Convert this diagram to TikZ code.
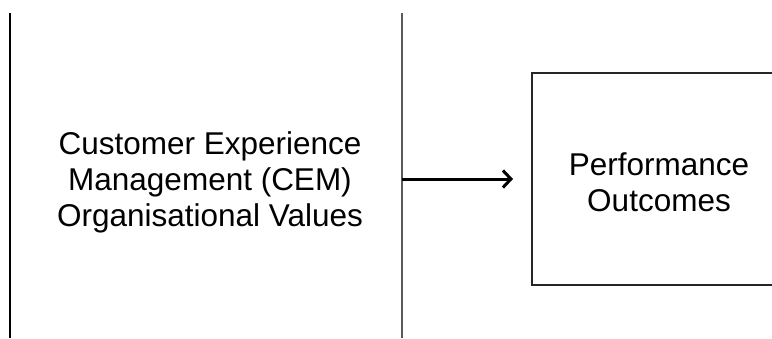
\documentclass[tikz,border=0pt]{standalone}
\usepackage{fontspec}
\setmainfont{Liberation Sans}
\usetikzlibrary{arrows.meta}
\begin{document}
\begin{tikzpicture}[x=1pt,y=-1pt,
  rule/.style={line width=2pt,draw=black},
  label/.style={align=center,font=\fontsize{31.5}{36}\selectfont,inner sep=0pt},
  flow/.style={line width=3pt,-{Straight Barb[length=8pt,width=17pt,line width=3pt]}}]
  \useasboundingbox (0,0) rectangle (772,338);
  % dividing rules
  \coordinate (l1) at (9.5,13);
  \coordinate (l2) at (9.5,338);
  \coordinate (m1) at (402,13);
  \coordinate (m2) at (402,338);
  \draw[rule] (l1) -- (l2);
  \draw[rule,draw=black!65] (m1) -- (m2);
  % outcome box, running past the right edge
  \draw[line width=2.2pt,draw=black!85] (790,73) -- (532,73) -- (532,285) -- (790,285);
  \node[label] (cem) at (210,182) {Customer Experience\\Management (CEM)\\Organisational Values};
  \node[label] (perf) at (659,182) {Performance\\Outcomes};
  \coordinate (a0) at (402,179);
  \coordinate (a1) at (513,179);
  \draw[flow] (a0) -- (a1);
\end{tikzpicture}
\end{document}
